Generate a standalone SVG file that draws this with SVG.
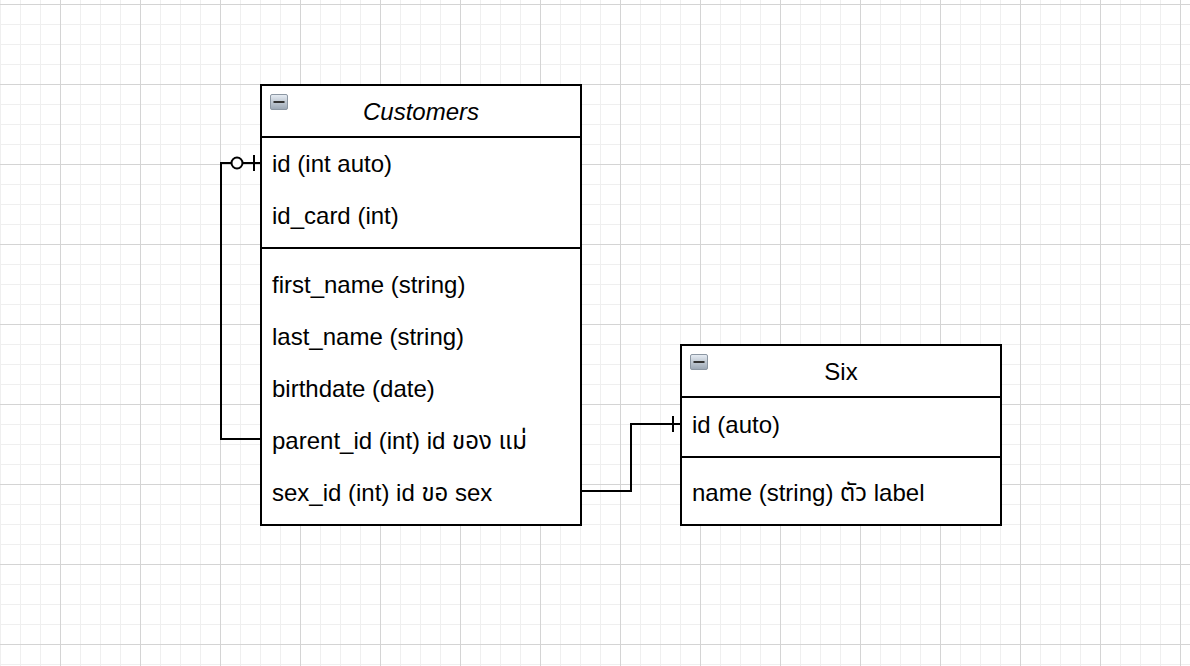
<svg xmlns="http://www.w3.org/2000/svg" width="1190" height="666" viewBox="0 0 1190 666">
<defs>
<pattern id="minor" x="0" y="4" width="20" height="20" patternUnits="userSpaceOnUse">
<path d="M0.5 0V20M0 0.5H20" stroke="#efefef" stroke-width="1" fill="none"/>
</pattern>
<pattern id="major" x="60" y="4" width="80" height="80" patternUnits="userSpaceOnUse">
<path d="M0.5 0V80M0 0.5H80" stroke="#d4d4d4" stroke-width="1" fill="none"/>
</pattern>
<linearGradient id="ig" x1="0" y1="0" x2="0" y2="1">
<stop offset="0" stop-color="#e8eef5"/>
<stop offset="1" stop-color="#9aa6b3"/>
</linearGradient>
<g id="icon">
<rect x="0.5" y="0.5" width="17" height="15" rx="1.5" fill="url(#ig)" stroke="#8c97a3"/>
<rect x="3.5" y="7" width="11" height="2" fill="#333"/>
</g>
</defs>
<style>
.box{fill:#fff;stroke:#000;stroke-width:2}
.ln{stroke:#000;stroke-width:2;fill:none}
.t{font-family:"Liberation Sans",Arial,"Noto Sans","Noto Sans Thai",sans-serif;font-size:24px;fill:#000}
.h{text-anchor:middle}
</style>
<rect width="1190" height="666" fill="#fff"/>
<rect width="1190" height="666" fill="url(#minor)"/>
<rect width="1190" height="666" fill="url(#major)"/>

<g id="connectors">
<path class="ln" d="M261 439H221V163H261"/>
<circle cx="237" cy="163" r="5.5" fill="#fff" stroke="#000" stroke-width="2"/>
<path class="ln" d="M254 155V171"/>
<path class="ln" d="M581 491H631V424H681"/>
<path class="ln" d="M673 416V432"/>
</g>

<g id="customers">
<rect class="box" x="261" y="85" width="320" height="440"/>
<path class="ln" d="M261 137H581M261 248H581"/>
<use href="#icon" x="270" y="94"/>
<text class="t h" x="421" y="120" font-style="italic">Customers</text>
<text class="t" x="272" y="172">id (int auto)</text>
<text class="t" x="272" y="224">id_card (int)</text>
<text class="t" x="272" y="293">first_name (string)</text>
<text class="t" x="272" y="345">last_name (string)</text>
<text class="t" x="272" y="397">birthdate (date)</text>
<text class="t" x="272" y="449">parent_id (int) id ของ แม่</text>
<text class="t" x="272" y="501">sex_id (int) id ขอ sex</text>
</g>

<g id="six">
<rect class="box" x="681" y="345" width="320" height="180"/>
<path class="ln" d="M681 397H1001M681 457H1001"/>
<use href="#icon" x="690" y="354"/>
<text class="t h" x="841" y="380">Six</text>
<text class="t" x="692" y="433">id (auto)</text>
<text class="t" x="692" y="501">name (string) ตัว label</text>
</g>
</svg>
